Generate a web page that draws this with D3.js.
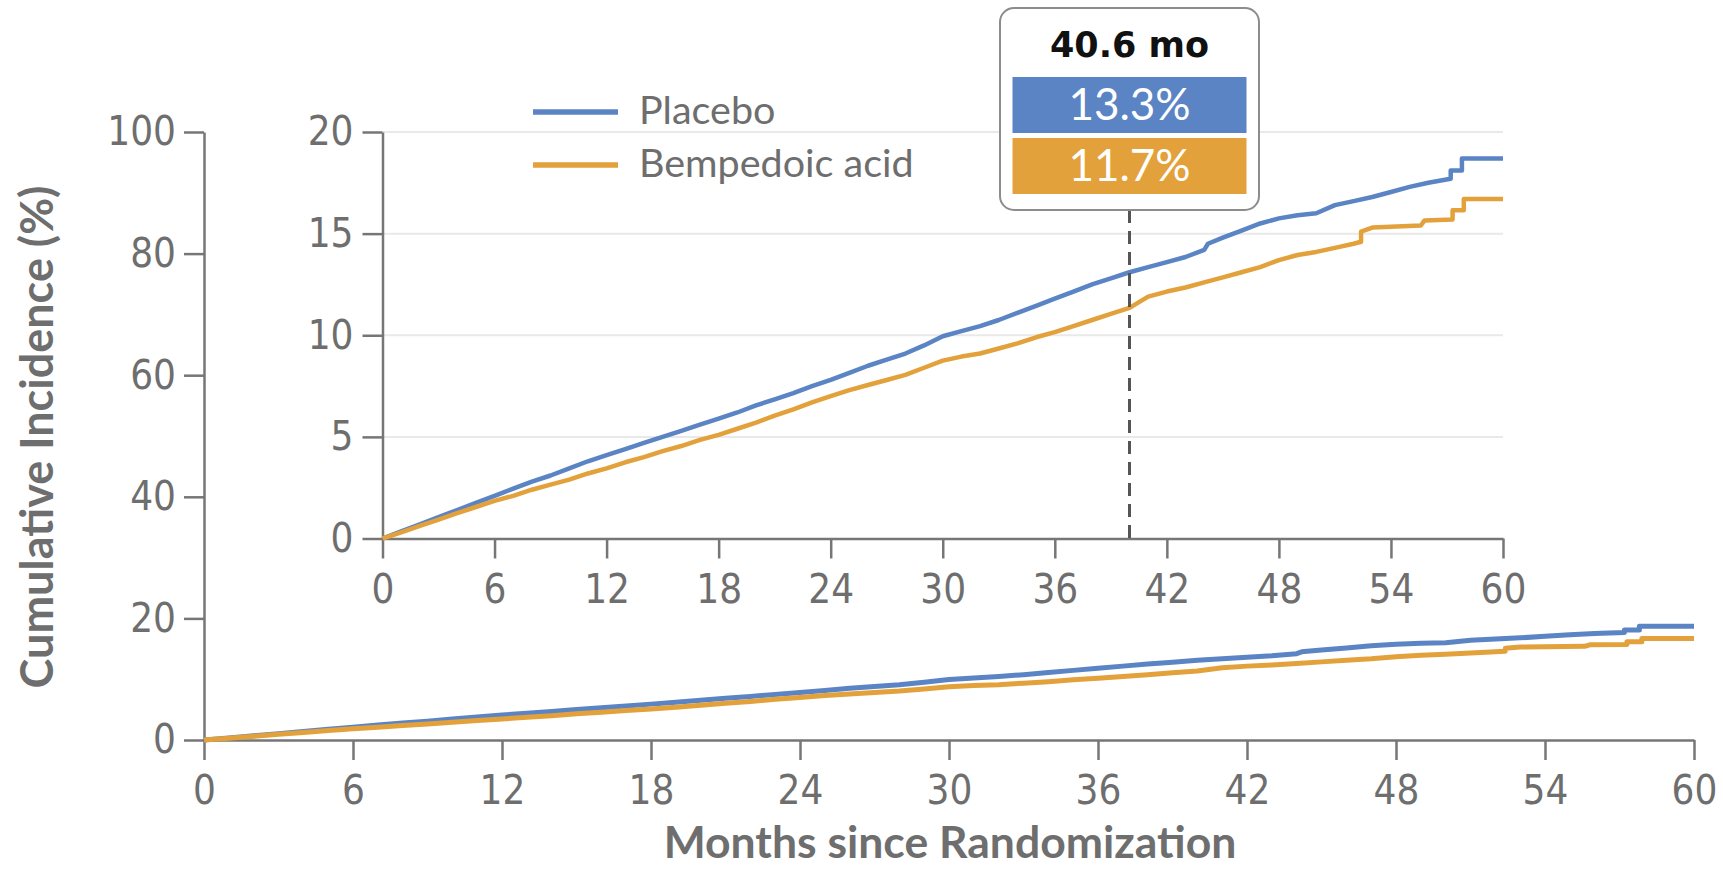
<!DOCTYPE html>
<html>
<head>
<meta charset="utf-8">
<script src="https://cdn.jsdelivr.net/npm/d3@7"></script>
<style>
  body { margin: 0; background: #fff; }
  svg { display: block; }
</style>
</head>
<body>
<svg id="chart" width="1723" height="896"></svg>
<script>
// cumulative incidence (%), by month since randomization
var placeboMonths = [0,1,2,3,4,5,6,7,8,9,10,11,12,13,14,15,16,17,18,19,20,21,22,23,24,25,26,27,28,29,30,
  31,32,33,34,35,36,37,38,39,40,41,42,43,44,44.2,45,46,47,48,49,50,51,52,53,54,55,56,57.2,57.2,57.8,57.8,60];
var placeboPct = [0,0.35,0.7,1.05,1.4,1.75,2.1,2.45,2.8,3.1,3.45,3.8,4.1,4.4,4.7,5.0,5.3,5.6,5.9,6.2,6.55,6.85,7.15,7.5,7.8,8.15,8.5,8.8,9.1,9.5,9.95,
  10.2,10.45,10.75,11.1,11.45,11.8,12.15,12.5,12.8,13.1,13.35,13.6,13.85,14.2,14.5,14.8,15.15,15.5,15.75,15.9,16.0,16.4,16.6,16.8,17.05,17.3,17.5,17.7,18.1,18.1,18.7,18.7];

var bempMonths = [0,1,2,3,4,5,6,7,8,9,10,11,12,13,14,15,16,17,18,19,20,21,22,23,24,25,26,27,28,29,30,
  31,32,33,34,35,36,37,38,39,40,41,42,43,44,45,46,47,48,49,50,51,52,52.4,52.4,53,55.6,55.8,57.3,57.3,57.9,57.9,60];
var bempPct = [0,0.3,0.62,0.93,1.25,1.55,1.85,2.1,2.4,2.65,2.9,3.2,3.45,3.75,4.0,4.3,4.55,4.85,5.1,5.4,5.7,6.05,6.35,6.7,7.0,7.3,7.55,7.8,8.05,8.4,8.75,
  8.95,9.1,9.35,9.6,9.9,10.15,10.45,10.75,11.05,11.35,11.9,12.15,12.35,12.6,12.85,13.1,13.35,13.7,13.95,14.1,14.3,14.5,14.6,15.1,15.3,15.4,15.65,15.7,16.15,16.15,16.7,16.7];

var seriesNames = ["Placebo", "Bempedoic acid"];
var xTicks = [0,6,12,18,24,30,36,42,48,54,60];
var mainYTicks = [0,20,40,60,80,100];
var insetYTicks = [0,5,10,15,20];

var markerMonth = 40;          // where the dashed line is drawn
var markerLabel = "40.6 mo";
var markerValues = ["13.3%", "11.7%"];

var colors = ["#5b84c5", "#e3a13b"];
var axisColor = "#767676";
var textColor = "#6e6e6e";
var tickFont = "'Liberation Sans Narrow', 'DejaVu Sans Condensed', sans-serif";
var textFont = "Lato, 'Open Sans', sans-serif";

var svg = d3.select("#chart");

var series = [
  d3.zip(placeboMonths, placeboPct),
  d3.zip(bempMonths, bempPct)
];

// main panel
var x = d3.scaleLinear().domain([0, 60]).range([204, 1694]);
var y = d3.scaleLinear().domain([0, 100]).range([740, 132]);
// inset panel
var xi = d3.scaleLinear().domain([0, 60]).range([382.5, 1503]);
var yi = d3.scaleLinear().domain([0, 20]).range([538.5, 132]);

function styleAxis(g) {
  g.select(".domain").attr("stroke", axisColor).attr("stroke-width", 2.5);
  g.selectAll(".tick line").attr("stroke", axisColor).attr("stroke-width", 2.5);
  g.selectAll(".tick text")
    .attr("fill", textColor)
    .style("font-family", tickFont)
    .style("font-size", "40px");
}

// inset grid
svg.append("g").selectAll("line")
  .data(insetYTicks.slice(1))
  .join("line")
  .attr("x1", xi(0)).attr("x2", xi(60))
  .attr("y1", d => yi(d)).attr("y2", d => yi(d))
  .attr("stroke", "#e9e9e9")
  .attr("stroke-width", 2);

// axes
svg.append("g")
  .attr("transform", "translate(0," + y(0) + ")")
  .call(d3.axisBottom(x).tickValues(xTicks).tickSizeInner(20).tickSizeOuter(0).tickPadding(16))
  .call(styleAxis);
svg.append("g")
  .attr("transform", "translate(" + x(0) + ",0)")
  .call(d3.axisLeft(y).tickValues(mainYTicks).tickSizeInner(20).tickSizeOuter(0).tickPadding(8))
  .call(styleAxis);

svg.append("g")
  .attr("transform", "translate(0," + yi(0) + ")")
  .call(d3.axisBottom(xi).tickValues(xTicks).tickSizeInner(20).tickSizeOuter(0).tickPadding(16))
  .call(styleAxis);
svg.append("g")
  .attr("transform", "translate(" + xi(0) + ",0)")
  .call(d3.axisLeft(yi).tickValues(insetYTicks).tickSizeInner(20).tickSizeOuter(0).tickPadding(9))
  .call(styleAxis);

// curves
var lineMain = d3.line().x(d => x(d[0])).y(d => y(d[1]));
var lineInset = d3.line().x(d => xi(d[0])).y(d => yi(d[1]));

svg.append("g").selectAll("path")
  .data(series)
  .join("path")
  .attr("d", lineMain)
  .attr("fill", "none")
  .attr("stroke", (d, i) => colors[i])
  .attr("stroke-width", 5)
  .attr("stroke-linejoin", "round");

svg.append("g").selectAll("path")
  .data(series)
  .join("path")
  .attr("d", lineInset)
  .attr("fill", "none")
  .attr("stroke", (d, i) => colors[i])
  .attr("stroke-width", 4.5)
  .attr("stroke-linejoin", "round");

// marker: dashed line + value box
var mx = xi(markerMonth);
var boxW = 259, boxH = 202, boxTop = 8;

svg.append("line")
  .attr("x1", mx).attr("x2", mx)
  .attr("y1", boxTop + boxH).attr("y2", yi(0))
  .attr("stroke", "#555")
  .attr("stroke-width", 3)
  .attr("stroke-dasharray", "13,8");

svg.append("rect")
  .attr("x", mx - boxW / 2).attr("y", boxTop)
  .attr("width", boxW).attr("height", boxH)
  .attr("rx", 14)
  .attr("fill", "#fff")
  .attr("stroke", "#8c8c8c")
  .attr("stroke-width", 2);

svg.append("text")
  .attr("x", mx).attr("y", 57)
  .attr("text-anchor", "middle")
  .attr("fill", "#111")
  .style("font-family", "'DejaVu Sans', sans-serif")
  .style("font-weight", "bold")
  .style("font-size", "35px")
  .text(markerLabel);

var rows = svg.append("g").selectAll("g")
  .data(markerValues)
  .join("g")
  .attr("transform", (d, i) => "translate(0," + (77 + i * 61) + ")");
rows.append("rect")
  .attr("x", mx - 117).attr("width", 234)
  .attr("height", 56)
  .attr("fill", (d, i) => colors[i]);
rows.append("text")
  .attr("x", mx).attr("y", 43)
  .attr("text-anchor", "middle")
  .attr("fill", "#fff")
  .style("font-family", textFont)
  .style("font-size", "44px")
  .text(d => d);

// legend
var legend = svg.append("g").selectAll("g")
  .data(seriesNames)
  .join("g")
  .attr("transform", (d, i) => "translate(533," + (112 + i * 53) + ")");
legend.append("line")
  .attr("x1", 0).attr("x2", 85)
  .attr("stroke", (d, i) => colors[i])
  .attr("stroke-width", 5.5);
legend.append("text")
  .attr("x", 106).attr("y", 12)
  .attr("fill", textColor)
  .style("font-family", textFont)
  .style("font-size", "39.5px")
  .text(d => d);

// axis titles
svg.append("text")
  .attr("x", 950).attr("y", 858)
  .attr("text-anchor", "middle")
  .attr("fill", textColor)
  .style("font-family", textFont)
  .style("font-weight", "bold")
  .style("font-size", "44.5px")
  .text("Months since Randomization");

svg.append("text")
  .attr("transform", "translate(53,437) rotate(-90)")
  .attr("text-anchor", "middle")
  .attr("fill", textColor)
  .style("font-family", textFont)
  .style("font-weight", "bold")
  .style("font-size", "45px")
  .text("Cumulative Incidence (%)");
</script>
</body>
</html>
